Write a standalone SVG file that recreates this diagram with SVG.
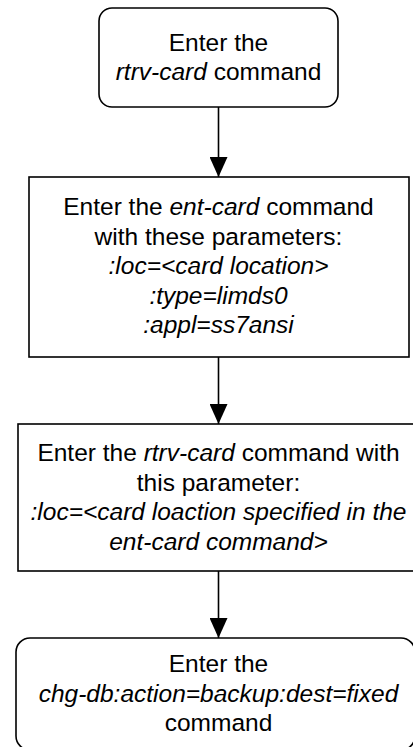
<svg xmlns="http://www.w3.org/2000/svg" width="413" height="747" viewBox="0 0 413 747">
<style>
.b{fill:#fff;stroke:#000;stroke-width:1.6}
text{font-family:"Liberation Sans",Arial,sans-serif;font-size:24.5px;fill:#000;text-anchor:middle}
.i{font-style:italic}
.c{stroke:#000;stroke-width:1.6;fill:none}
</style>
<defs>
<marker id="ah" markerWidth="20" markerHeight="18" refX="20" refY="9" orient="auto" markerUnits="userSpaceOnUse" viewBox="0 0 20 18">
<path d="M0,0 L20,9 L0,18 Z" fill="#000"/>
</marker>
</defs>
<rect width="413" height="747" fill="#fff"/>
<g id="connectors">
<line class="c" x1="218.5" y1="107" x2="218.5" y2="177" marker-end="url(#ah)"/>
<line class="c" x1="218.5" y1="357" x2="218.5" y2="424" marker-end="url(#ah)"/>
<line class="c" x1="218.5" y1="571" x2="218.5" y2="638" marker-end="url(#ah)"/>
</g>
<g id="n1">
<rect class="b" x="99" y="8" width="239" height="99" rx="13"/>
<text x="218.5" y="50.5">Enter the</text>
<text x="218.5" y="80"><tspan class="i">rtrv-card</tspan> command</text>
</g>
<g id="n2">
<rect class="b" x="29" y="177" width="380" height="180"/>
<text x="218.5" y="215">Enter the <tspan class="i">ent-card</tspan> command</text>
<text x="218.5" y="245">with these parameters:</text>
<text x="218.5" y="274" class="i">:loc=&lt;card location&gt;</text>
<text x="218.5" y="304" class="i">:type=limds0</text>
<text x="218.5" y="333" class="i">:appl=ss7ansi</text>
</g>
<g id="n3">
<rect class="b" x="18" y="424" width="401" height="147"/>
<text x="218.5" y="461">Enter the <tspan class="i">rtrv-card</tspan> command with</text>
<text x="218.5" y="490.5">this parameter:</text>
<text x="218.5" y="520" class="i">:loc=&lt;card loaction specified in the</text>
<text x="218.5" y="550" class="i">ent-card command&gt;</text>
</g>
<g id="n4">
<rect class="b" x="16" y="638" width="399" height="112" rx="14"/>
<text x="218.5" y="672">Enter the</text>
<text x="218.5" y="702" class="i">chg-db:action=backup:dest=fixed</text>
<text x="218.5" y="731">command</text>
</g>
</svg>
